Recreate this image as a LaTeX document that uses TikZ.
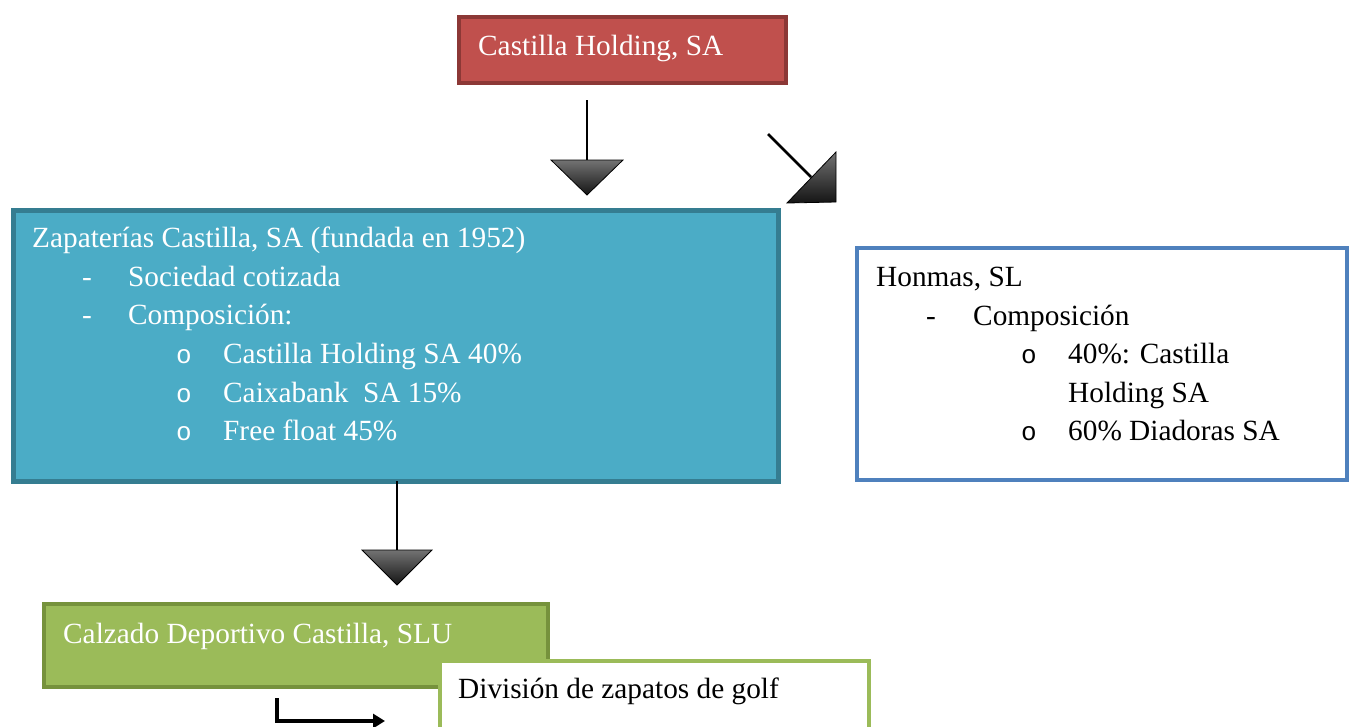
\documentclass[tikz,border=0pt]{standalone}
\usepackage{fontspec}
\setmainfont{Liberation Serif}
\newfontfamily\bulletfont{Liberation Mono}
\usetikzlibrary{arrows.meta}
\definecolor{redfill}{HTML}{C0504D}
\definecolor{redline}{HTML}{8C3836}
\definecolor{bluefill}{HTML}{4BACC6}
\definecolor{blueline}{HTML}{357D91}
\definecolor{honline}{HTML}{4F81BD}
\definecolor{greenfill}{HTML}{9BBB59}
\definecolor{greenline}{HTML}{76923C}
\begin{document}
\begin{tikzpicture}[x=1pt,y=-1pt,
  box/.style={rectangle, inner sep=0pt, anchor=north west, line width=4pt},
  txt/.style={anchor=base west, inner sep=0pt, font=\fontsize{29.3}{36}\selectfont},
  wtxt/.style={txt, text=white},
  bul/.style={txt, font=\fontsize{26}{30}\bulletfont},
  wbul/.style={bul, text=white},
  shaft/.style={line width=2.5pt, black},
  headtri/.style={draw=black, line width=0.8pt, top color=black!55, bottom color=black!92, line join=miter},
]
\useasboundingbox (0,0) rectangle (1352,726);
\clip (0,0) rectangle (1352,726);

% boxes
\node[box, draw=redline, fill=redfill, minimum width=327pt, minimum height=66pt] (holding) at (457,15) {};
\node[box, line width=5pt, draw=blueline, fill=bluefill, minimum width=765pt, minimum height=271pt] (zapat) at (10.5,207.5) {};
\node[box, draw=honline, fill=white, minimum width=490pt, minimum height=232pt] (honmas) at (855,246) {};
\node[box, draw=greenline, fill=greenfill, minimum width=504pt, minimum height=83pt] (calzado) at (42,602) {};
\node[box, draw=greenfill, fill=white, minimum width=429pt, minimum height=80pt] (golf) at (438,659) {};

% texts
\node[wtxt] (t0) at (478,55) {Castilla Holding, SA};

\node[wtxt] (z1) at (32,247) {Zapaterías Castilla, SA (fundada en 1952)};
\node[wtxt] (z2d) at (82,286) {-};
\node[wtxt] (z2) at (128,286) {Sociedad cotizada};
\node[wtxt] (z3d) at (82,324) {-};
\node[wtxt] (z3) at (128,324) {Composición:};
\node[wbul] (z4o) at (176,363) {o};
\node[wtxt] (z4) at (223,363) {Castilla Holding SA 40\%};
\node[wbul] (z5o) at (176,402) {o};
\node[wtxt] (z5) at (223,402) {Caixabank\ \ SA 15\%};
\node[wbul] (z6o) at (176,440) {o};
\node[wtxt] (z6) at (223,440) {Free float 45\%};

\node[txt] (h1) at (876,286) {Honmas, SL};
\node[txt] (h2d) at (926,325) {-};
\node[txt] (h2) at (973,325) {Composición};
\node[bul] (h3o) at (1021,363) {o};
\node[txt] (h3) at (1068,363) {40\%: Castilla};
\node[txt] (h4) at (1068,402) {Holding SA};
\node[bul] (h5o) at (1021,440) {o};
\node[txt] (h5) at (1068,440) {60\% Diadoras SA};

\node[wtxt] (c1) at (63,643) {Calzado Deportivo Castilla, SLU};
\node[txt] (g1) at (458,698) {División de zapatos de golf};

% connectors
\coordinate (a1s) at (587,100);
\coordinate (a1e) at (587,160);
\draw[shaft] (a1s) -- (a1e);
\path[headtri] (a1e) ++(-36,0) -- ++(72,0) -- ++(-36,35) -- cycle;

\coordinate (a2s) at (768,134);
\coordinate (a2e) at (811,177);
\draw[shaft] (a2s) -- (a2e);
\path[headtri] (a2e) ++(25,-25) -- ++(-49,51) -- ++(49,-1) -- cycle;

\coordinate (a3s) at (397,481);
\coordinate (a3e) at (397,550);
\draw[shaft] (a3s) -- (a3e);
\path[headtri] (a3e) ++(-35,0) -- ++(70,0) -- ++(-35,35) -- cycle;

\coordinate (e1) at (277,698);
\coordinate (e2) at (385,721);
\draw[line width=4.5pt, line join=miter, -{Triangle[length=12pt,width=14pt]}] (e1) |- (e2);
\end{tikzpicture}
\end{document}
